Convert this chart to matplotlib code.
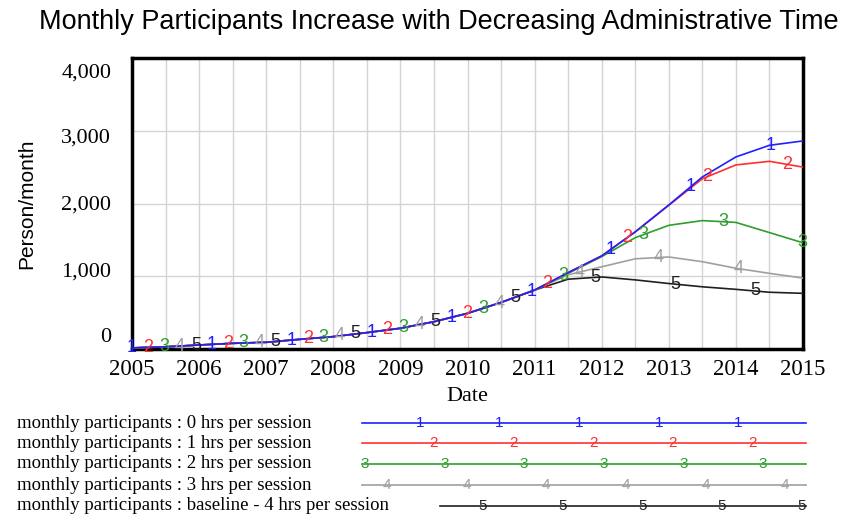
import numpy as np
import matplotlib
matplotlib.use("Agg")
import matplotlib.pyplot as plt
from matplotlib.transforms import ScaledTranslation

# ---- data (half-year steps, 2005 .. 2015) ----
years = np.arange(2005, 2015.01, 0.5)

early = [15, 30, 55, 78, 92, 133, 170, 225, 285, 375, 490, 640, 810]
s0hrs = early + [1050, 1280, 1610, 1980, 2365, 2640, 2800, 2860]
s1hrs = early + [1050, 1280, 1610, 1975, 2340, 2530, 2580, 2500]
s2hrs = early + [1040, 1270, 1530, 1700, 1765, 1740, 1600, 1460]
s3hrs = early + [1020, 1130, 1240, 1265, 1200, 1110, 1040, 975]
s4hrs = early + [960, 990, 950, 900, 855, 820, 780, 765]

series = [s0hrs, s1hrs, s2hrs, s3hrs, s4hrs]
names = [
    "monthly participants : 0 hrs per session",
    "monthly participants : 1 hrs per session",
    "monthly participants : 2 hrs per session",
    "monthly participants : 3 hrs per session",
    "monthly participants : baseline - 4 hrs per session",
]
colors = ["#2020ff", "#ff3030", "#2e9e2e", "#a0a0a0", "#202020"]
digits = ["1", "2", "3", "4", "5"]
y_ticks = [0, 1000, 2000, 3000, 4000]

serif = "Liberation Serif"
sans = "Liberation Sans"

W, H = 862, 518
fig = plt.figure(figsize=(W / 100, H / 100), dpi=100)

# main plot area
ax = fig.add_axes([132 / W, 1 - 349 / H, (803 - 132) / W, (349 - 58) / H])
ax.set_xlim(2005, 2015)
ax.set_ylim(0, 4000)

ax.set_xticks(np.arange(2005, 2016, 1))
ax.set_xticks(np.arange(2005, 2015.01, 0.5), minor=True)
ax.set_yticks(y_ticks)
ax.set_xticklabels([str(y) for y in range(2005, 2016)], fontfamily=serif, fontsize=16.5)
ax.set_yticklabels([f"{v:,}" for v in y_ticks], fontfamily=serif, fontsize=16)
ax.tick_params(which="both", length=0)
ax.tick_params(axis="x", pad=7)
ax.tick_params(axis="y", pad=15)
ax.grid(True, which="both", axis="x", color="#d4d4d4", linewidth=1)
ax.grid(True, which="major", axis="y", color="#d4d4d4", linewidth=1)
ax.set_axisbelow(True)
for sp in ax.spines.values():
    sp.set_linewidth(2.5)
    sp.set_color("black")

# vensim spreads the value labels evenly, a bit off the grid lines
shift_px = [14, 7, 1, -5, -13]
for lab, dy in zip(ax.get_yticklabels(), shift_px):
    lab.set_transform(lab.get_transform() + ScaledTranslation(0, dy / 100, fig.dpi_scale_trans))

period = 1.19
step = period / 5
for k, (vals, c, d) in enumerate(zip(series, colors, digits)):
    ax.plot(years, vals, color=c, linewidth=1.2, zorder=3 + (5 - k) * 0.1)
    xs = np.arange(2005 + k * step, 2015.001, period)
    ys = np.interp(xs, years, vals)
    for x, y in zip(xs, ys):
        ax.text(x, y, d, color=c, fontsize=13, fontfamily=sans,
                ha="center", va="center", zorder=5, clip_on=False)

ax.set_xlabel("Date", fontfamily=serif, fontsize=16, labelpad=5)
ax.set_ylabel("Person/month", fontfamily=sans, fontsize=15, labelpad=18)

fig.text(439 / W, 1 - 22 / H,
         "Monthly Participants Increase with Decreasing Administrative Time",
         fontfamily=sans, fontsize=19.5, ha="center", va="center")

# legend drawn in pixel coordinates
lg = fig.add_axes([0, 0, 1, 1], facecolor="none")
lg.set_xlim(0, W)
lg.set_ylim(H, 0)
lg.axis("off")
row_y = [423, 443, 464, 485, 506]
line_x0 = [362, 362, 362, 362, 440]
first_digit = [420, 434, 365, 387, 483]
for name, c, d, y, x0, fd in zip(names, colors, digits, row_y, line_x0, first_digit):
    lg.text(17, y, name, fontfamily=serif, fontsize=13.5, ha="left", va="center")
    lg.plot([x0, 806], [y, y], color=c, linewidth=1.2)
    x = fd
    while x < 808:
        lg.text(x, y, d, color=c, fontsize=11, fontfamily=sans,
                ha="center", va="center")
        x += 79.6

fig.savefig("out.png", dpi=100, facecolor="white")
